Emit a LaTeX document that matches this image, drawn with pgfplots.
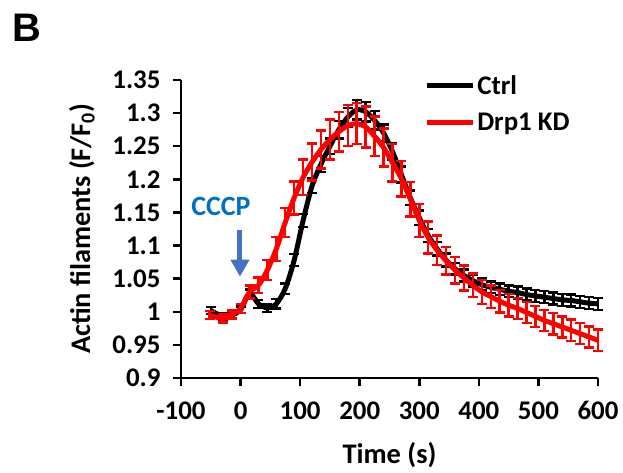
\documentclass[border=0pt]{standalone}
\usepackage{pgfplots}
\pgfplotsset{compat=1.18}
\usepackage{fontspec}
\setmainfont{Carlito}
\newfontfamily\arialfont{Liberation Sans}
\usetikzlibrary{arrows.meta}
\definecolor{cccpblue}{RGB}{0,112,192}
\definecolor{arrowblue}{RGB}{68,114,196}
\newcommand{\tickfont}{\fontsize{27}{31}\selectfont\bfseries}
\newcommand{\lblfont}{\fontsize{28.5}{32}\selectfont\bfseries}

\pgfplotstableread{
t v e
-50 1.002 0.005
-30 0.993 0.005
-15 0.995 0.005
0 1.003 0.005
15 1.028 0.006
30 1.012 0.006
45 1.006 0.006
60 1.012 0.007
75 1.035 0.008
90 1.078 0.009
105 1.138 0.010
120 1.190 0.011
135 1.223 0.012
150 1.250 0.012
165 1.275 0.013
180 1.294 0.014
195 1.305 0.015
210 1.302 0.015
225 1.289 0.014
240 1.270 0.013
255 1.242 0.012
270 1.207 0.012
285 1.172 0.011
300 1.142 0.011
315 1.115 0.010
330 1.095 0.010
345 1.078 0.010
360 1.065 0.009
375 1.055 0.009
390 1.047 0.009
405 1.041 0.009
420 1.037 0.009
435 1.034 0.009
450 1.031 0.009
465 1.029 0.009
480 1.026 0.009
495 1.024 0.009
510 1.022 0.009
525 1.020 0.009
540 1.018 0.009
555 1.017 0.009
570 1.015 0.009
585 1.013 0.009
600 1.012 0.009
}\ctrl

\pgfplotstableread{
t v e
-52 0.995 0.006
-30 0.990 0.006
-15 0.996 0.006
0 1.005 0.007
15 1.030 0.010
30 1.040 0.012
45 1.063 0.015
60 1.095 0.018
75 1.135 0.022
90 1.172 0.025
105 1.203 0.027
120 1.226 0.028
135 1.245 0.029
150 1.260 0.030
165 1.272 0.030
180 1.281 0.031
195 1.284 0.031
210 1.279 0.031
225 1.265 0.030
240 1.248 0.029
255 1.225 0.028
270 1.201 0.027
285 1.170 0.026
300 1.138 0.025
315 1.112 0.024
330 1.093 0.022
345 1.077 0.021
360 1.063 0.020
375 1.051 0.019
390 1.040 0.018
405 1.030 0.018
420 1.023 0.017
435 1.016 0.017
450 1.010 0.017
465 1.005 0.016
480 0.999 0.016
495 0.993 0.016
510 0.987 0.016
525 0.982 0.016
540 0.977 0.016
555 0.972 0.016
570 0.967 0.016
585 0.962 0.016
600 0.957 0.016
}\kd

\begin{document}
\begin{tikzpicture}
\useasboundingbox (-181bp,-95bp) rectangle (442bp,378bp);
\begin{axis}[
  at={(0,0)}, anchor=south west,
  scale only axis,
  width=417bp, height=298bp,
  xmin=-100, xmax=600,
  ymin=0.9, ymax=1.35,
  xtick={-100,0,...,600},
  ytick={0.9,0.95,...,1.36},
  axis x line*=bottom,
  axis y line*=left,
  axis line style={line width=2.7bp},
  tick align=outside,
  major tick length=8bp,
  every tick/.style={line width=2.5bp, black},
  tick label style={font=\tickfont},
  xticklabel style={yshift=-12bp},
  yticklabel style={xshift=-9bp},
  every axis x label/.style={at={(rel axis cs:0.5,0)}, yshift=-77bp, anchor=center, font=\lblfont},
  every axis y label/.style={at={(rel axis cs:0,0.5)}, xshift=-99bp, rotate=90, anchor=center, font=\lblfont},
  /pgf/number format/.cd, fixed, precision=2, assume math mode=true,
  /pgfplots/.cd,
  xlabel={Time (s)},
  ylabel={Actin filaments (F/F\textsubscript{0})},
  legend style={draw=none, fill=none, font=\tickfont,
    at={(rel axis cs:0.583,1.023)}, anchor=north west,
    inner sep=0pt, row sep=13bp},
  legend cell align=left,
  legend image code/.code={\draw[line width=5bp] (0bp,0bp) -- (30bp,0bp); \path (0bp,0bp) -- (46bp,0bp);},
  clip=false,
]
\addplot[black, line width=5bp, smooth, tension=0.5,
  error bars/.cd, y dir=both, y explicit,
  error bar style={line width=2.5bp, black},
  error mark options={rotate=90, mark size=5bp, line width=2.5bp, black}]
  table[x=t, y=v, y error=e] {\ctrl};
\addlegendentry{Ctrl}
\addplot[red, line width=5bp, smooth, tension=0.5,
  error bars/.cd, y dir=both, y explicit,
  error bar style={line width=2.5bp, red},
  error mark options={rotate=90, mark size=5bp, line width=2.5bp, red}]
  table[x=t, y=v, y error=e] {\kd};
\addlegendentry{Drp1 KD}
\node[font=\fontsize{28}{32}\selectfont\bfseries, text=cccpblue] at (axis cs:-33,1.159) {CCCP};
\draw[arrowblue, line width=5bp, -{Triangle[width=18bp,length=17bp]}] (axis cs:-1,1.124) -- (axis cs:-1,1.053);
\end{axis}
\node[font=\arialfont\fontsize{40}{44}\selectfont\bfseries] at (-154.5bp,350bp) {B};
\end{tikzpicture}
\end{document}
